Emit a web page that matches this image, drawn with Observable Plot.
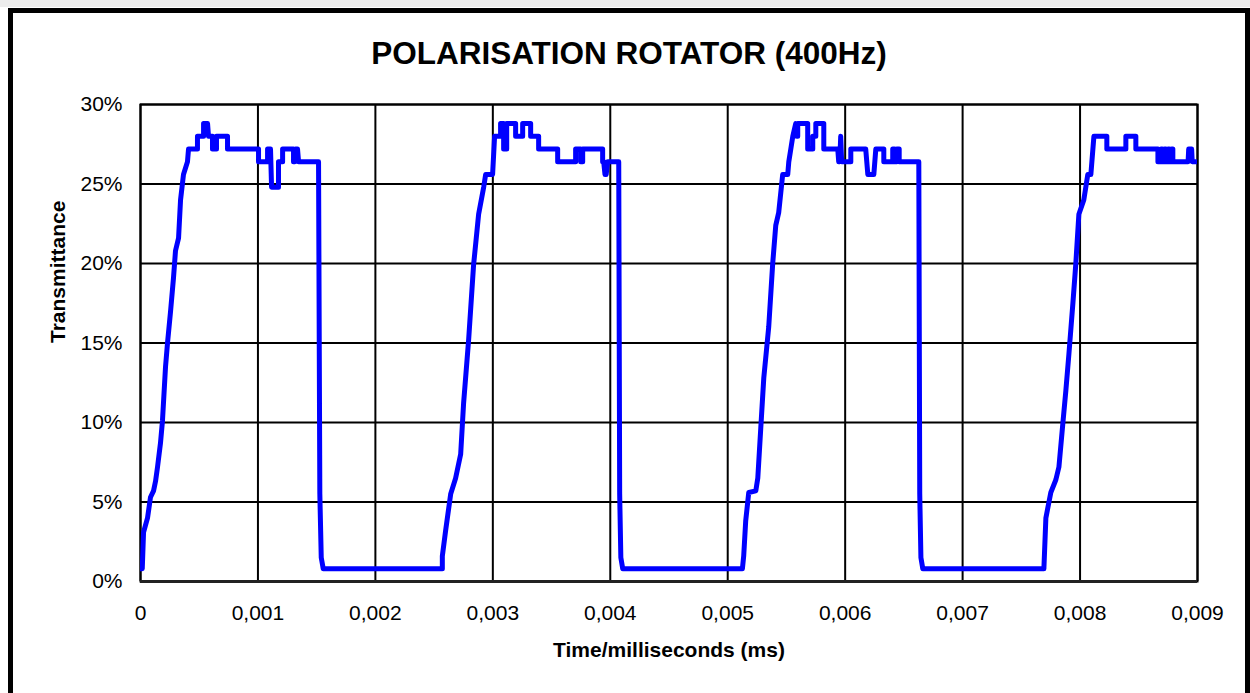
<!DOCTYPE html>
<html>
<head>
<meta charset="utf-8">
<script src="https://cdn.jsdelivr.net/npm/d3@7"></script>
<script src="https://cdn.jsdelivr.net/npm/@observablehq/plot@0.6"></script>
<style>
  html, body { margin: 0; padding: 0; background: #fff; }
  #wrap { position: relative; width: 1250px; height: 693px; overflow: hidden;
          font-family: "Liberation Sans", Arial, Helvetica, sans-serif; background: #fff; }
  #topstrip { position: absolute; left: 0; top: 0; width: 1250px; height: 7px; background: #ececec; }
  #frame { position: absolute; left: 8px; top: 8px; width: 1242px; height: 720px; box-sizing: border-box;
           border: 5px solid #000; pointer-events: none; z-index: 2; }
  #title { height: 88px; box-sizing: border-box; padding-top: 37px; padding-left: 8px; text-align: center;
           font-weight: bold; font-size: 31.5px; line-height: 32px; color: #000; }
  #chart svg { display: block; }
</style>
</head>
<body>
<div id="wrap">
  <div id="topstrip"></div>
  <div id="frame"></div>
  <div id="title">POLARISATION ROTATOR (400Hz)</div>
  <div id="chart"></div>
</div>
<script>
// ---- data (time in ms, transmittance in %) ----
const timeMs = [
  0.005e-3, 0.015e-3, 0.026e-3, 0.060e-3, 0.085e-3, 0.111e-3, 0.128e-3, 0.145e-3, 0.170e-3, 0.187e-3,
  0.213e-3, 0.230e-3, 0.256e-3, 0.281e-3, 0.298e-3, 0.324e-3, 0.341e-3, 0.366e-3, 0.400e-3, 0.409e-3,
  0.485e-3, 0.485e-3, 0.537e-3, 0.537e-3, 0.571e-3, 0.579e-3, 0.613e-3, 0.613e-3, 0.647e-3, 0.647e-3,
  0.741e-3, 0.741e-3, 1.005e-3, 1.005e-3, 1.082e-3, 1.082e-3, 1.107e-3, 1.116e-3, 1.175e-3, 1.175e-3,
  1.210e-3, 1.210e-3, 1.303e-3, 1.303e-3, 1.315e-3, 1.320e-3, 1.337e-3, 1.346e-3, 1.516e-3, 1.527e-3,
  1.539e-3, 1.556e-3, 2.570e-3,
  2.570e-3, 2.598e-3, 2.641e-3, 2.683e-3, 2.726e-3, 2.751e-3, 2.794e-3, 2.836e-3, 2.879e-3, 2.922e-3,
  2.939e-3, 2.998e-3, 3.015e-3, 3.066e-3, 3.066e-3, 3.092e-3, 3.092e-3, 3.118e-3, 3.118e-3, 3.194e-3,
  3.194e-3, 3.254e-3, 3.254e-3, 3.322e-3, 3.322e-3, 3.390e-3, 3.390e-3, 3.552e-3, 3.552e-3, 3.705e-3,
  3.705e-3, 3.748e-3, 3.748e-3, 3.765e-3, 3.765e-3, 3.935e-3, 3.935e-3, 3.944e-3, 3.955e-3, 3.965e-3,
  3.978e-3, 4.072e-3, 4.080e-3, 4.090e-3, 4.106e-3, 5.125e-3,
  5.136e-3, 5.153e-3, 5.179e-3, 5.239e-3, 5.256e-3, 5.281e-3, 5.307e-3, 5.349e-3, 5.383e-3, 5.409e-3,
  5.434e-3, 5.468e-3, 5.511e-3, 5.520e-3, 5.537e-3, 5.554e-3, 5.579e-3, 5.588e-3, 5.596e-3, 5.596e-3,
  5.681e-3, 5.681e-3, 5.724e-3, 5.724e-3, 5.750e-3, 5.750e-3, 5.818e-3, 5.818e-3, 5.937e-3, 5.945e-3,
  5.954e-3, 5.962e-3, 5.970e-3, 6.048e-3, 6.048e-3, 6.175e-3, 6.193e-3, 6.244e-3, 6.261e-3, 6.329e-3,
  6.329e-3, 6.405e-3, 6.405e-3, 6.420e-3, 6.420e-3, 6.440e-3, 6.440e-3, 6.460e-3, 6.460e-3, 6.627e-3,
  6.635e-3, 6.645e-3, 6.661e-3, 7.692e-3,
  7.709e-3, 7.751e-3, 7.794e-3, 7.820e-3, 7.853e-3, 7.879e-3, 7.905e-3, 7.939e-3, 7.964e-3, 7.990e-3,
  8.032e-3, 8.066e-3, 8.092e-3, 8.118e-3, 8.228e-3, 8.228e-3, 8.390e-3, 8.390e-3, 8.475e-3, 8.475e-3,
  8.663e-3, 8.663e-3, 8.690e-3, 8.690e-3, 8.700e-3, 8.700e-3, 8.720e-3, 8.720e-3, 8.730e-3, 8.730e-3,
  8.750e-3, 8.750e-3, 8.760e-3, 8.760e-3, 8.780e-3, 8.780e-3, 8.790e-3, 8.790e-3, 8.920e-3, 8.925e-3,
  8.950e-3, 8.955e-3, 9.000e-3
];
const transmittance = [
  0.8, 0.8, 3.1, 4.0, 5.3, 5.7, 6.3, 7.2, 8.7, 10.1,
  13.5, 15.0, 17.0, 19.1, 20.8, 21.6, 24.0, 25.6, 26.4, 27.2,
  27.2, 28.0, 28.0, 28.8, 28.8, 28.0, 28.0, 27.2, 27.2, 28.0,
  28.0, 27.2, 27.2, 26.4, 26.4, 27.2, 27.2, 24.8, 24.8, 26.4,
  26.4, 27.2, 27.2, 26.4, 26.4, 27.2, 27.2, 26.4, 26.4, 5.5,
  1.5, 0.8, 0.8,
  1.6, 3.2, 5.5, 6.5, 8.0, 11.2, 15.2, 19.9, 23.1, 24.8,
  25.6, 25.6, 28.0, 28.0, 28.8, 28.8, 27.2, 27.2, 28.8, 28.8,
  28.0, 28.0, 28.8, 28.8, 28.0, 28.0, 27.2, 27.2, 26.4, 26.4,
  27.2, 27.2, 26.4, 26.4, 27.2, 27.2, 26.4, 26.4, 25.6, 25.6,
  26.4, 26.4, 5.5, 1.5, 0.8, 0.8,
  1.6, 3.8, 5.6, 5.7, 6.5, 9.6, 12.8, 16.0, 20.0, 22.4,
  23.2, 25.6, 25.6, 26.4, 27.2, 28.0, 28.8, 28.0, 28.0, 28.8,
  28.8, 27.2, 27.2, 28.0, 28.0, 28.8, 28.8, 27.2, 27.2, 26.4,
  26.4, 28.0, 26.4, 26.4, 27.2, 27.2, 25.6, 25.6, 27.2, 27.2,
  26.4, 26.4, 27.2, 27.2, 26.4, 26.4, 27.2, 27.2, 26.4, 26.4,
  5.5, 1.5, 0.8, 0.8,
  4.0, 5.6, 6.4, 7.2, 9.9, 12.0, 14.3, 17.5, 20.0, 23.1,
  24.0, 25.6, 25.6, 28.0, 28.0, 27.2, 27.2, 28.0, 28.0, 27.2,
  27.2, 26.4, 26.4, 27.2, 27.2, 26.4, 26.4, 27.2, 27.2, 26.4,
  26.4, 27.2, 27.2, 26.4, 26.4, 27.2, 27.2, 26.4, 26.4, 27.2,
  27.2, 26.4, 26.4
];
const xTicks = [0, 0.001, 0.002, 0.003, 0.004, 0.005, 0.006, 0.007, 0.008, 0.009];
const yTicks = [0, 5, 10, 15, 20, 25, 30];
const xLabel = "Time/milliseconds (ms)";
const yLabel = "Transmittance";

const data = timeMs.map((t, i) => ({t, v: transmittance[i]}));
const fmtX = d => d === 0 ? "0" : d.toFixed(3).replace(".", ",");
const fmtY = d => d + "%";

const chart = Plot.plot({
  width: 1250,
  height: 605,
  marginTop: 16,
  marginBottom: 112,
  marginLeft: 140,
  marginRight: 53,
  style: {fontFamily: "'Liberation Sans', Arial, Helvetica, sans-serif", fontSize: "21px", background: "transparent", color: "#000", overflow: "visible"},
  x: {domain: [0, 0.009]},
  y: {domain: [0, 30]},
  marks: [
    Plot.gridX(xTicks, {stroke: "#000", strokeOpacity: 1, strokeWidth: 2}),
    Plot.gridY(yTicks, {stroke: "#000", strokeOpacity: 1, strokeWidth: 2}),
    Plot.frame({stroke: "#000", strokeWidth: 2}),
    Plot.ruleY([0], {stroke: "#222", strokeWidth: 3}),
    Plot.line(data, {x: "t", y: "v", stroke: "#0000ff", strokeWidth: 5, strokeLinejoin: "round", strokeLinecap: "square", clip: true}),
    Plot.axisX(xTicks, {tickSize: 0, tickPadding: 24, tickFormat: fmtX, label: null, fontSize: 21}),
    Plot.axisY(yTicks, {tickSize: 0, tickPadding: 18, tickFormat: fmtY, label: null, fontSize: 21}),
    Plot.text([xLabel], {text: d => d, frameAnchor: "bottom", dy: 69, fontWeight: "bold", fontSize: 21, lineAnchor: "middle"}),
    Plot.text([yLabel], {text: d => d, frameAnchor: "left", dx: -82, rotate: -90, fontWeight: "bold", fontSize: 21, lineAnchor: "middle"})
  ]
});
document.getElementById("chart").appendChild(chart);
</script>
</body>
</html>
